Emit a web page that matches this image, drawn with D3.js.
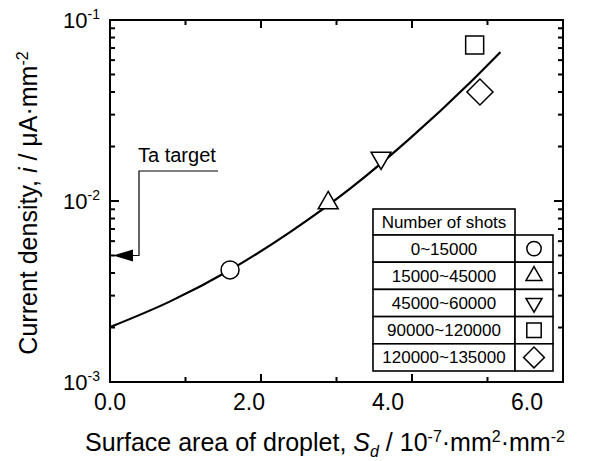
<!DOCTYPE html>
<html lang="en">
<head>
<meta charset="utf-8">
<title>Current density vs droplet area</title>
<script src="https://cdn.jsdelivr.net/npm/d3@7"></script>
<style>
  body { margin: 0; background: #fff; }
  svg { display: block; font-family: "Liberation Sans", Arial, sans-serif; }
</style>
</head>
<body>
<svg width="590" height="461"></svg>
<script>
// values
var shotRanges = ["0~15000", "15000~45000", "45000~60000", "90000~120000", "120000~135000"];
var shapes = ["circle", "triangle", "triangleDown", "square", "diamond"];
var areaSd = [1.59, 2.89, 3.59, 4.83, 4.90];
var currentI = [4.16e-3, 9.75e-3, 1.73e-2, 7.28e-2, 4.0e-2];

// fitted curve
var fitSd = [0, 0.79, 1.59, 2.38, 3.18, 3.97, 4.77, 5.17];
var fitI = [2.01e-3, 2.78e-3, 4.16e-3, 6.71e-3, 1.17e-2, 2.21e-2, 4.52e-2, 6.65e-2];

var taTarget = 5.0e-3;

// ticks
var xMajor = [0, 2, 4, 6];
var xMinor = [1, 3, 5];
var xTickLabels = ["0.0", "2.0", "4.0", "6.0"];
var yMajor = [1e-3, 1e-2, 1e-1];
var yExp = ["-3", "-2", "-1"];

var svg = d3.select("svg");
var pL = 110, pR = 563, pT = 20, pB = 382;

var x = d3.scaleLinear().domain([0, 6]).range([pL, pR]);
// tick labels in the original sit a bit left of their ticks
var xLab = d3.scaleLinear().domain([0, 6]).range([pL, 527]);
var y = d3.scaleLog().domain([1e-3, 1e-1]).range([pB, pT]);
var yMinor = y.ticks().filter(function (d) { return yMajor.indexOf(d) < 0; });

svg.append("rect").attr("width", 590).attr("height", 461).attr("fill", "#fff");

// ticks, all pointing into the plot
function ticksX(vals, len) {
    svg.append("g").selectAll("line").data(vals).enter().append("line")
        .attr("x1", x).attr("x2", x).attr("y1", pB).attr("y2", pB - len)
        .attr("stroke", "#000").attr("stroke-width", 2);
    svg.append("g").selectAll("line").data(vals).enter().append("line")
        .attr("x1", x).attr("x2", x).attr("y1", pT).attr("y2", pT + len)
        .attr("stroke", "#000").attr("stroke-width", 2);
}
function ticksY(vals, len) {
    svg.append("g").selectAll("line").data(vals).enter().append("line")
        .attr("y1", y).attr("y2", y).attr("x1", pL).attr("x2", pL + len)
        .attr("stroke", "#000").attr("stroke-width", 2);
    svg.append("g").selectAll("line").data(vals).enter().append("line")
        .attr("y1", y).attr("y2", y).attr("x1", pR).attr("x2", pR - len)
        .attr("stroke", "#000").attr("stroke-width", 2);
}
ticksX(xMajor, 8);
ticksX(xMinor, 5);
ticksY(yMajor, 9);
ticksY(yMinor, 5);

svg.append("rect")
    .attr("x", pL).attr("y", pT)
    .attr("width", pR - pL).attr("height", pB - pT)
    .attr("fill", "none").attr("stroke", "#000").attr("stroke-width", 2);

// x tick labels
svg.append("g").selectAll("text").data(xMajor).enter().append("text")
    .attr("x", xLab).attr("y", 410)
    .attr("text-anchor", "middle").attr("font-size", 23)
    .text(function (d, i) { return xTickLabels[i]; });

// y tick labels 10^n
var yl = svg.append("g").selectAll("text").data(yMajor).enter().append("text")
    .attr("x", 100).attr("y", function (d) { return y(d) + 8; })
    .attr("text-anchor", "end").attr("font-size", 22);
yl.append("tspan").text("10");
yl.append("tspan").attr("dy", -9).attr("font-size", 14).text(function (d, i) { return yExp[i]; });

// axis titles
function rich(sel, parts) {
    var shift = 0;
    parts.forEach(function (p) {
        var t = sel.append("tspan").text(p[0]);
        var want = p[1] == "sup" ? -9 : p[1] == "sub" ? 6 : 0;
        if (want != shift) { t.attr("dy", want - shift); shift = want; }
        if (p[1] == "sup" || p[1] == "sub") t.attr("font-size", 16);
        if (p[1] == "i" || p[1] == "sub") t.attr("font-style", "italic");
    });
}
var xt = svg.append("text").attr("x", 325).attr("y", 451)
    .attr("text-anchor", "middle").attr("font-size", 25);
rich(xt, [["Surface area of droplet, ", "n"], ["S", "i"], ["d", "sub"], [" / 10", "n"],
          ["-7", "sup"], ["\u00b7mm", "n"], ["2", "sup"], ["\u00b7mm", "n"], ["-2", "sup"]]);

var yt = svg.append("text").attr("transform", "translate(37,203) rotate(-90)")
    .attr("text-anchor", "middle").attr("font-size", 25);
rich(yt, [["Current density, ", "n"], ["i", "i"], [" / \u03bcA\u00b7mm", "n"], ["-2", "sup"]]);

// fitted curve
var line = d3.line()
    .x(function (d, i) { return x(fitSd[i]); })
    .y(function (d, i) { return y(fitI[i]); })
    .curve(d3.curveMonotoneX);
svg.append("path").datum(fitSd).attr("d", line)
    .attr("fill", "none").attr("stroke", "#000").attr("stroke-width", 2.2);

// markers
function markerPath(shape, big) {
    var k = big ? 1 : 0.8;
    if (shape == "circle") return d3.symbol(d3.symbolCircle, 254 * k * k)();
    if (shape == "triangle" || shape == "triangleDown") return d3.symbol(d3.symbolTriangle, 173 * k * k)();
    if (shape == "square") return d3.symbol(d3.symbolSquare, 324 * k * k)();
    return d3.symbol(d3.symbolSquare, 339 * k * k)();
}
function markerRot(shape) {
    return shape == "triangleDown" ? " rotate(180)" : shape == "diamond" ? " rotate(45)" : "";
}
svg.append("g").selectAll("path").data(areaSd).enter().append("path")
    .attr("d", function (d, i) { return markerPath(shapes[i], true); })
    .attr("transform", function (d, i) {
        return "translate(" + x(d) + "," + y(currentI[i]) + ")" + markerRot(shapes[i]);
    })
    .attr("fill", "#fff").attr("stroke", "#000").attr("stroke-width", 1.5);

// Ta target callout
var ty = y(taTarget);
svg.append("text").attr("x", 138).attr("y", 162).attr("font-size", 20).text("Ta target");
svg.append("path")
    .attr("d", "M218,171H139V" + ty + "H132")
    .attr("fill", "none").attr("stroke", "#000").attr("stroke-width", 1.2);
svg.append("path")
    .attr("d", "M" + (pL + 3) + "," + ty + "L133," + (ty - 6) + "L133," + (ty + 6) + "Z")
    .attr("fill", "#000");

// legend table
var lgX0 = 373, lgX1 = 515, lgX2 = 553, lgTop = 209, lgHead = 235, rowH = 27.2;
var lg = svg.append("g");
lg.append("rect").attr("x", lgX0).attr("y", lgTop).attr("width", lgX1 - lgX0)
    .attr("height", lgHead - lgTop).attr("fill", "#fff").attr("stroke", "#000").attr("stroke-width", 1.6);
lg.append("text").attr("x", (lgX0 + lgX1) / 2).attr("y", lgHead - 7)
    .attr("text-anchor", "middle").attr("font-size", 17).text("Number of shots");
var rows = lg.selectAll("g.row").data(shotRanges).enter().append("g")
    .attr("class", "row")
    .attr("transform", function (d, i) { return "translate(0," + (lgHead + i * rowH) + ")"; });
rows.append("rect").attr("x", lgX0).attr("width", lgX1 - lgX0).attr("height", rowH)
    .attr("fill", "#fff").attr("stroke", "#000").attr("stroke-width", 1.6);
rows.append("rect").attr("x", lgX1).attr("width", lgX2 - lgX1).attr("height", rowH)
    .attr("fill", "#fff").attr("stroke", "#000").attr("stroke-width", 1.6);
rows.append("text").attr("x", (lgX0 + lgX1) / 2).attr("y", rowH / 2 + 6)
    .attr("text-anchor", "middle").attr("font-size", 17).text(function (d) { return d; });
rows.append("path")
    .attr("d", function (d, i) { return markerPath(shapes[i], false); })
    .attr("transform", function (d, i) {
        return "translate(" + (lgX1 + lgX2) / 2 + "," + rowH / 2 + ")" + markerRot(shapes[i]);
    })
    .attr("fill", "#fff").attr("stroke", "#000").attr("stroke-width", 1.5);
</script>
</body>
</html>
